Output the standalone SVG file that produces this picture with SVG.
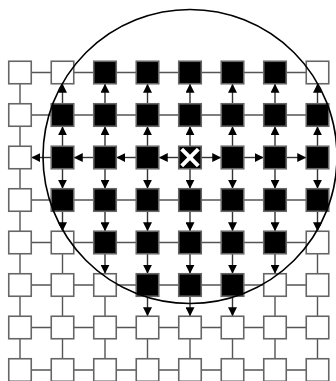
<svg xmlns="http://www.w3.org/2000/svg" width="336" height="381" viewBox="0 0 336 381">
<style>
.e{stroke:#555;stroke-width:1.4;fill:none}
.a{stroke:#333;stroke-width:1.4;fill:none;marker-end:url(#ah)}
.w{fill:#fff;stroke:#666;stroke-width:1.6}
.b{fill:#000;stroke:#666;stroke-width:1.6}
.x{stroke:#fff;stroke-width:4;stroke-linecap:butt}
</style>
<defs>
<marker id="ah" markerUnits="userSpaceOnUse" markerWidth="9" markerHeight="9" refX="9" refY="4.5" orient="auto">
<path d="M0,0 L9,4.5 L0,9 z" fill="#000"/>
</marker>
</defs>
<rect width="336" height="381" fill="#fff"/>
<g id="connectors">
<!-- plain horizontal lines rows 0,1,3-7 -->
<path class="e" d="M20,72.5H317.5M20,115H317.5M20,200H317.5M20,242.5H317.5M20,285H317.5M20,327.5H317.5M20,370H317.5"/>
<!-- column 0 plain -->
<path class="e" d="M20,72.5V381"/>
<!-- plain vertical remainders -->
<path class="e" d="M62.5,242.5V381M105,285V381M147.5,327.5V381M190,327.5V381M232.5,327.5V381M275,285V381M317.5,242.5V381"/>
<!-- row 2 arrows -->
<line class="a" x1="178.75" y1="157.5" x2="158.75" y2="157.5"/>
<line class="a" x1="136.25" y1="157.5" x2="116.25" y2="157.5"/>
<line class="a" x1="93.75" y1="157.5" x2="73.75" y2="157.5"/>
<line class="a" x1="51.25" y1="157.5" x2="31.25" y2="157.5"/>
<line class="a" x1="201.25" y1="157.5" x2="221.25" y2="157.5"/>
<line class="a" x1="243.75" y1="157.5" x2="263.75" y2="157.5"/>
<line class="a" x1="286.25" y1="157.5" x2="306.25" y2="157.5"/>
<!-- up arrows cols 1-7 -->
<g id="up">
<line class="a" x1="62.5" y1="146.25" x2="62.5" y2="126.25"/><line class="a" x1="62.5" y1="103.75" x2="62.5" y2="83.75"/>
<line class="a" x1="105" y1="146.25" x2="105" y2="126.25"/><line class="a" x1="105" y1="103.75" x2="105" y2="83.75"/>
<line class="a" x1="147.5" y1="146.25" x2="147.5" y2="126.25"/><line class="a" x1="147.5" y1="103.75" x2="147.5" y2="83.75"/>
<line class="a" x1="190" y1="146.25" x2="190" y2="126.25"/><line class="a" x1="190" y1="103.75" x2="190" y2="83.75"/>
<line class="a" x1="232.5" y1="146.25" x2="232.5" y2="126.25"/><line class="a" x1="232.5" y1="103.75" x2="232.5" y2="83.75"/>
<line class="a" x1="275" y1="146.25" x2="275" y2="126.25"/><line class="a" x1="275" y1="103.75" x2="275" y2="83.75"/>
<line class="a" x1="317.5" y1="146.25" x2="317.5" y2="126.25"/><line class="a" x1="317.5" y1="103.75" x2="317.5" y2="83.75"/>
</g>
<!-- down arrows -->
<g id="down">
<line class="a" x1="62.5" y1="168.75" x2="62.5" y2="188.75"/><line class="a" x1="62.5" y1="211.25" x2="62.5" y2="231.25"/>
<line class="a" x1="105" y1="168.75" x2="105" y2="188.75"/><line class="a" x1="105" y1="211.25" x2="105" y2="231.25"/><line class="a" x1="105" y1="253.75" x2="105" y2="273.75"/>
<line class="a" x1="147.5" y1="168.75" x2="147.5" y2="188.75"/><line class="a" x1="147.5" y1="211.25" x2="147.5" y2="231.25"/><line class="a" x1="147.5" y1="253.75" x2="147.5" y2="273.75"/><line class="a" x1="147.5" y1="296.25" x2="147.5" y2="316.25"/>
<line class="a" x1="190" y1="168.75" x2="190" y2="188.75"/><line class="a" x1="190" y1="211.25" x2="190" y2="231.25"/><line class="a" x1="190" y1="253.75" x2="190" y2="273.75"/><line class="a" x1="190" y1="296.25" x2="190" y2="316.25"/>
<line class="a" x1="232.5" y1="168.75" x2="232.5" y2="188.75"/><line class="a" x1="232.5" y1="211.25" x2="232.5" y2="231.25"/><line class="a" x1="232.5" y1="253.75" x2="232.5" y2="273.75"/><line class="a" x1="232.5" y1="296.25" x2="232.5" y2="316.25"/>
<line class="a" x1="275" y1="168.75" x2="275" y2="188.75"/><line class="a" x1="275" y1="211.25" x2="275" y2="231.25"/><line class="a" x1="275" y1="253.75" x2="275" y2="273.75"/>
<line class="a" x1="317.5" y1="168.75" x2="317.5" y2="188.75"/><line class="a" x1="317.5" y1="211.25" x2="317.5" y2="231.25"/>
</g>
</g>
<g id="nodes">
<g id="r0"><rect class="w" x="8.75" y="61.25" width="22.5" height="22.5"/><rect class="w" x="51.25" y="61.25" width="22.5" height="22.5"/><rect class="b" x="93.75" y="61.25" width="22.5" height="22.5"/><rect class="b" x="136.25" y="61.25" width="22.5" height="22.5"/><rect class="b" x="178.75" y="61.25" width="22.5" height="22.5"/><rect class="b" x="221.25" y="61.25" width="22.5" height="22.5"/><rect class="b" x="263.75" y="61.25" width="22.5" height="22.5"/><rect class="w" x="306.25" y="61.25" width="22.5" height="22.5"/></g>
<g id="r1"><rect class="w" x="8.75" y="103.75" width="22.5" height="22.5"/><rect class="b" x="51.25" y="103.75" width="22.5" height="22.5"/><rect class="b" x="93.75" y="103.75" width="22.5" height="22.5"/><rect class="b" x="136.25" y="103.75" width="22.5" height="22.5"/><rect class="b" x="178.75" y="103.75" width="22.5" height="22.5"/><rect class="b" x="221.25" y="103.75" width="22.5" height="22.5"/><rect class="b" x="263.75" y="103.75" width="22.5" height="22.5"/><rect class="b" x="306.25" y="103.75" width="22.5" height="22.5"/></g>
<g id="r2"><rect class="w" x="8.75" y="146.25" width="22.5" height="22.5"/><rect class="b" x="51.25" y="146.25" width="22.5" height="22.5"/><rect class="b" x="93.75" y="146.25" width="22.5" height="22.5"/><rect class="b" x="136.25" y="146.25" width="22.5" height="22.5"/><rect class="b" x="221.25" y="146.25" width="22.5" height="22.5"/><rect class="b" x="263.75" y="146.25" width="22.5" height="22.5"/><rect class="b" x="306.25" y="146.25" width="22.5" height="22.5"/></g>
<g id="source"><rect class="b" x="178.75" y="146.25" width="22.5" height="22.5"/><path class="x" d="M181.7,149.2L198.3,165.8M198.3,149.2L181.7,165.8"/></g>
<g id="r3"><rect class="w" x="8.75" y="188.75" width="22.5" height="22.5"/><rect class="b" x="51.25" y="188.75" width="22.5" height="22.5"/><rect class="b" x="93.75" y="188.75" width="22.5" height="22.5"/><rect class="b" x="136.25" y="188.75" width="22.5" height="22.5"/><rect class="b" x="178.75" y="188.75" width="22.5" height="22.5"/><rect class="b" x="221.25" y="188.75" width="22.5" height="22.5"/><rect class="b" x="263.75" y="188.75" width="22.5" height="22.5"/><rect class="b" x="306.25" y="188.75" width="22.5" height="22.5"/></g>
<g id="r4"><rect class="w" x="8.75" y="231.25" width="22.5" height="22.5"/><rect class="w" x="51.25" y="231.25" width="22.5" height="22.5"/><rect class="b" x="93.75" y="231.25" width="22.5" height="22.5"/><rect class="b" x="136.25" y="231.25" width="22.5" height="22.5"/><rect class="b" x="178.75" y="231.25" width="22.5" height="22.5"/><rect class="b" x="221.25" y="231.25" width="22.5" height="22.5"/><rect class="b" x="263.75" y="231.25" width="22.5" height="22.5"/><rect class="w" x="306.25" y="231.25" width="22.5" height="22.5"/></g>
<g id="r5"><rect class="w" x="8.75" y="273.75" width="22.5" height="22.5"/><rect class="w" x="51.25" y="273.75" width="22.5" height="22.5"/><rect class="w" x="93.75" y="273.75" width="22.5" height="22.5"/><rect class="b" x="136.25" y="273.75" width="22.5" height="22.5"/><rect class="b" x="178.75" y="273.75" width="22.5" height="22.5"/><rect class="b" x="221.25" y="273.75" width="22.5" height="22.5"/><rect class="w" x="263.75" y="273.75" width="22.5" height="22.5"/><rect class="w" x="306.25" y="273.75" width="22.5" height="22.5"/></g>
<g id="r6"><rect class="w" x="8.75" y="316.25" width="22.5" height="22.5"/><rect class="w" x="51.25" y="316.25" width="22.5" height="22.5"/><rect class="w" x="93.75" y="316.25" width="22.5" height="22.5"/><rect class="w" x="136.25" y="316.25" width="22.5" height="22.5"/><rect class="w" x="178.75" y="316.25" width="22.5" height="22.5"/><rect class="w" x="221.25" y="316.25" width="22.5" height="22.5"/><rect class="w" x="263.75" y="316.25" width="22.5" height="22.5"/><rect class="w" x="306.25" y="316.25" width="22.5" height="22.5"/></g>
<g id="r7"><rect class="w" x="8.75" y="358.75" width="22.5" height="22.5"/><rect class="w" x="51.25" y="358.75" width="22.5" height="22.5"/><rect class="w" x="93.75" y="358.75" width="22.5" height="22.5"/><rect class="w" x="136.25" y="358.75" width="22.5" height="22.5"/><rect class="w" x="178.75" y="358.75" width="22.5" height="22.5"/><rect class="w" x="221.25" y="358.75" width="22.5" height="22.5"/><rect class="w" x="263.75" y="358.75" width="22.5" height="22.5"/><rect class="w" x="306.25" y="358.75" width="22.5" height="22.5"/></g>
</g>
<g id="range"><circle cx="190" cy="156.5" r="147" fill="none" stroke="#000" stroke-width="1.6"/></g>
</svg>
